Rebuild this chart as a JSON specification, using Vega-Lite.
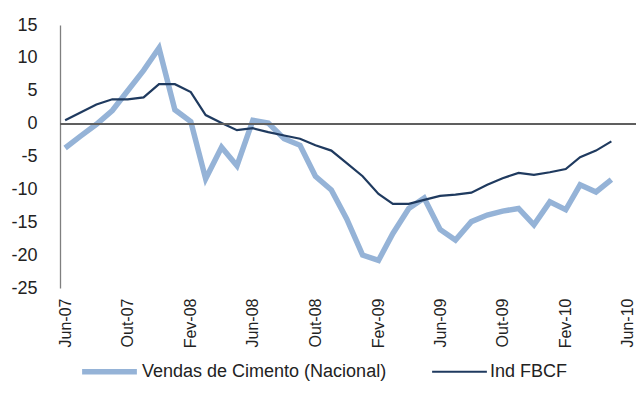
{
  "$schema": "https://vega.github.io/schema/vega-lite/v6.json",
  "width": 576,
  "height": 263,
  "autosize": {"type": "none"},
  "padding": {"left": 60, "top": 25, "right": 0, "bottom": 118},
  "background": "white",
  "data": {
    "values": [
      {"mes": "2007/06/01", "serie": "Vendas de Cimento (Nacional)", "valor": -3.7},
      {"mes": "2007/07/01", "serie": "Vendas de Cimento (Nacional)", "valor": -1.9},
      {"mes": "2007/08/01", "serie": "Vendas de Cimento (Nacional)", "valor": -0.1},
      {"mes": "2007/09/01", "serie": "Vendas de Cimento (Nacional)", "valor": 2.0},
      {"mes": "2007/10/01", "serie": "Vendas de Cimento (Nacional)", "valor": 5.0},
      {"mes": "2007/11/01", "serie": "Vendas de Cimento (Nacional)", "valor": 8.1},
      {"mes": "2007/12/01", "serie": "Vendas de Cimento (Nacional)", "valor": 11.5},
      {"mes": "2008/01/01", "serie": "Vendas de Cimento (Nacional)", "valor": 2.1},
      {"mes": "2008/02/01", "serie": "Vendas de Cimento (Nacional)", "valor": 0.3},
      {"mes": "2008/03/01", "serie": "Vendas de Cimento (Nacional)", "valor": -8.4},
      {"mes": "2008/04/01", "serie": "Vendas de Cimento (Nacional)", "valor": -3.6},
      {"mes": "2008/05/01", "serie": "Vendas de Cimento (Nacional)", "valor": -6.4},
      {"mes": "2008/06/01", "serie": "Vendas de Cimento (Nacional)", "valor": 0.5},
      {"mes": "2008/07/01", "serie": "Vendas de Cimento (Nacional)", "valor": 0.1},
      {"mes": "2008/08/01", "serie": "Vendas de Cimento (Nacional)", "valor": -2.3},
      {"mes": "2008/09/01", "serie": "Vendas de Cimento (Nacional)", "valor": -3.3},
      {"mes": "2008/10/01", "serie": "Vendas de Cimento (Nacional)", "valor": -8.0},
      {"mes": "2008/11/01", "serie": "Vendas de Cimento (Nacional)", "valor": -10.1},
      {"mes": "2008/12/01", "serie": "Vendas de Cimento (Nacional)", "valor": -14.5},
      {"mes": "2009/01/01", "serie": "Vendas de Cimento (Nacional)", "valor": -20.0},
      {"mes": "2009/02/01", "serie": "Vendas de Cimento (Nacional)", "valor": -20.8},
      {"mes": "2009/03/01", "serie": "Vendas de Cimento (Nacional)", "valor": -16.7},
      {"mes": "2009/04/01", "serie": "Vendas de Cimento (Nacional)", "valor": -12.9},
      {"mes": "2009/05/01", "serie": "Vendas de Cimento (Nacional)", "valor": -11.3},
      {"mes": "2009/06/01", "serie": "Vendas de Cimento (Nacional)", "valor": -16.1},
      {"mes": "2009/07/01", "serie": "Vendas de Cimento (Nacional)", "valor": -17.7},
      {"mes": "2009/08/01", "serie": "Vendas de Cimento (Nacional)", "valor": -14.9},
      {"mes": "2009/09/01", "serie": "Vendas de Cimento (Nacional)", "valor": -13.9},
      {"mes": "2009/10/01", "serie": "Vendas de Cimento (Nacional)", "valor": -13.3},
      {"mes": "2009/11/01", "serie": "Vendas de Cimento (Nacional)", "valor": -12.9},
      {"mes": "2009/12/01", "serie": "Vendas de Cimento (Nacional)", "valor": -15.4},
      {"mes": "2010/01/01", "serie": "Vendas de Cimento (Nacional)", "valor": -11.9},
      {"mes": "2010/02/01", "serie": "Vendas de Cimento (Nacional)", "valor": -13.1},
      {"mes": "2010/03/01", "serie": "Vendas de Cimento (Nacional)", "valor": -9.3},
      {"mes": "2010/04/01", "serie": "Vendas de Cimento (Nacional)", "valor": -10.4},
      {"mes": "2010/05/01", "serie": "Vendas de Cimento (Nacional)", "valor": -8.5},
      {"mes": "2007/06/01", "serie": "Ind FBCF", "valor": 0.5},
      {"mes": "2007/07/01", "serie": "Ind FBCF", "valor": 1.7},
      {"mes": "2007/08/01", "serie": "Ind FBCF", "valor": 2.9},
      {"mes": "2007/09/01", "serie": "Ind FBCF", "valor": 3.7},
      {"mes": "2007/10/01", "serie": "Ind FBCF", "valor": 3.7},
      {"mes": "2007/11/01", "serie": "Ind FBCF", "valor": 4.0},
      {"mes": "2007/12/01", "serie": "Ind FBCF", "valor": 6.0},
      {"mes": "2008/01/01", "serie": "Ind FBCF", "valor": 6.0},
      {"mes": "2008/02/01", "serie": "Ind FBCF", "valor": 4.8},
      {"mes": "2008/03/01", "serie": "Ind FBCF", "valor": 1.3},
      {"mes": "2008/04/01", "serie": "Ind FBCF", "valor": 0.1},
      {"mes": "2008/05/01", "serie": "Ind FBCF", "valor": -1.0},
      {"mes": "2008/06/01", "serie": "Ind FBCF", "valor": -0.7},
      {"mes": "2008/07/01", "serie": "Ind FBCF", "valor": -1.3},
      {"mes": "2008/08/01", "serie": "Ind FBCF", "valor": -1.8},
      {"mes": "2008/09/01", "serie": "Ind FBCF", "valor": -2.3},
      {"mes": "2008/10/01", "serie": "Ind FBCF", "valor": -3.3},
      {"mes": "2008/11/01", "serie": "Ind FBCF", "valor": -4.1},
      {"mes": "2008/12/01", "serie": "Ind FBCF", "valor": -6.0},
      {"mes": "2009/01/01", "serie": "Ind FBCF", "valor": -8.0},
      {"mes": "2009/02/01", "serie": "Ind FBCF", "valor": -10.7},
      {"mes": "2009/03/01", "serie": "Ind FBCF", "valor": -12.2},
      {"mes": "2009/04/01", "serie": "Ind FBCF", "valor": -12.2},
      {"mes": "2009/05/01", "serie": "Ind FBCF", "valor": -11.6},
      {"mes": "2009/06/01", "serie": "Ind FBCF", "valor": -11.0},
      {"mes": "2009/07/01", "serie": "Ind FBCF", "valor": -10.8},
      {"mes": "2009/08/01", "serie": "Ind FBCF", "valor": -10.5},
      {"mes": "2009/09/01", "serie": "Ind FBCF", "valor": -9.3},
      {"mes": "2009/10/01", "serie": "Ind FBCF", "valor": -8.3},
      {"mes": "2009/11/01", "serie": "Ind FBCF", "valor": -7.5},
      {"mes": "2009/12/01", "serie": "Ind FBCF", "valor": -7.8},
      {"mes": "2010/01/01", "serie": "Ind FBCF", "valor": -7.4},
      {"mes": "2010/02/01", "serie": "Ind FBCF", "valor": -6.9},
      {"mes": "2010/03/01", "serie": "Ind FBCF", "valor": -5.1},
      {"mes": "2010/04/01", "serie": "Ind FBCF", "valor": -4.1},
      {"mes": "2010/05/01", "serie": "Ind FBCF", "valor": -2.7}
    ]
  },
  "encoding": {
    "y": {
      "field": "valor",
      "type": "quantitative",
      "scale": {"domain": [-25, 15], "nice": false, "zero": false},
      "axis": {
        "title": null,
        "values": [-25, -20, -15, -10, -5, 0, 5, 10, 15],
        "labelExpr": "'' + datum.value",
        "labelFontSize": 18,
        "labelPadding": 23,
        "labelOverlap": false,
        "labelFlush": false,
        "labelBound": false,
        "ticks": false,
        "grid": false,
        "domain": true,
        "domainColor": "#7f7f7f",
        "domainWidth": 1.3
      }
    }
  },
  "layer": [
    {
      "mark": {"type": "line", "strokeCap": "butt", "strokeJoin": "miter"},
      "encoding": {
        "x": {
          "field": "mes",
          "type": "temporal",
          "scale": {
            "domain": [
              {"year": 2007, "month": 5, "date": 22},
              {"year": 2010, "month": 6, "date": 18}
            ]
          },
          "axis": {
            "title": null,
            "values": [
              {"year": 2007, "month": 6, "date": 1},
              {"year": 2007, "month": 10, "date": 1},
              {"year": 2008, "month": 2, "date": 1},
              {"year": 2008, "month": 6, "date": 1},
              {"year": 2008, "month": 10, "date": 1},
              {"year": 2009, "month": 2, "date": 1},
              {"year": 2009, "month": 6, "date": 1},
              {"year": 2009, "month": 10, "date": 1},
              {"year": 2010, "month": 2, "date": 1},
              {"year": 2010, "month": 6, "date": 1}
            ],
            "labelExpr": "['Jan','Fev','Mar','Abr','Mai','Jun','Jul','Ago','Set','Out','Nov','Dez'][month(datum.value)] + '-' + timeFormat(datum.value, '%y')",
            "labelAngle": 270,
            "labelAlign": "right",
            "labelBaseline": "middle",
            "labelPadding": 10,
            "labelFontSize": 16,
            "labelOverlap": false,
            "labelFlush": false,
            "domain": false,
            "ticks": false,
            "grid": false
          }
        },
        "color": {
          "field": "serie",
          "type": "nominal",
          "scale": {
            "domain": ["Vendas de Cimento (Nacional)", "Ind FBCF"],
            "range": ["#95B3D7", "#1F3A5F"]
          },
          "legend": {
            "title": null,
            "orient": "bottom",
            "direction": "horizontal",
            "symbolType": "stroke",
            "symbolSize": 3000,
            "labelFontSize": 18,
            "labelOffset": 2,
            "columnPadding": 40,
            "padding": 19,
            "offset": -26
          }
        },
        "strokeWidth": {
          "field": "serie",
          "type": "nominal",
          "scale": {
            "domain": ["Vendas de Cimento (Nacional)", "Ind FBCF"],
            "range": [5.5, 2.2]
          },
          "legend": {
            "title": null,
            "orient": "bottom",
            "direction": "horizontal",
            "symbolType": "stroke",
            "symbolSize": 3000,
            "labelFontSize": 18,
            "labelOffset": 2,
            "columnPadding": 40,
            "padding": 19,
            "offset": -26
          }
        },
        "order": {"field": "mes", "type": "temporal"}
      }
    },
    {
      "mark": {"type": "rule", "color": "#5f5f5f", "strokeWidth": 1.5},
      "encoding": {"y": {"datum": 0, "type": "quantitative"}}
    }
  ],
  "config": {
    "view": {"stroke": null},
    "font": "Liberation Sans",
    "axis": {"labelColor": "#222", "labelFont": "Liberation Sans", "labelOverlap": false},
    "legend": {"labelColor": "#222", "labelFont": "Liberation Sans", "labelLimit": 400}
  }
}
